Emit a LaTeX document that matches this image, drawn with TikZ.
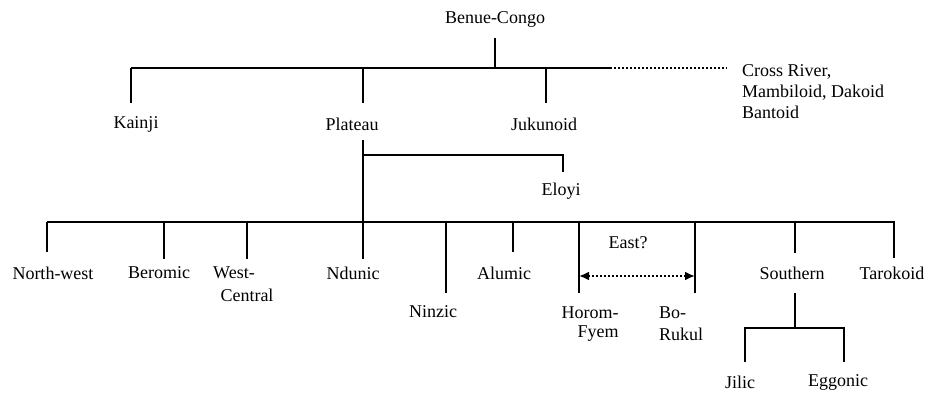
\documentclass[tikz,border=0pt]{standalone}
\usepackage{fontspec}
\setmainfont{Liberation Serif}
\usetikzlibrary{arrows.meta}
\begin{document}
\begin{tikzpicture}[x=1pt,y=-1pt,
  lbl/.style={font=\fontsize{18}{21}\selectfont, inner sep=0pt},
  ln/.style={line width=1.3pt},
  dotline/.style={line width=2.2pt, dash pattern=on 2pt off 2pt},
  twohead/.style={dotline, {Latex[length=10pt,width=9pt]}-{Latex[length=10pt,width=9pt]}}]
\useasboundingbox (0,0) rectangle (930,392);
% top level
\node[lbl] (bc) at (495,19) {Benue-Congo};
\node[lbl] (kainji) at (136,124) {Kainji};
\node[lbl] (plateau) at (352,124) {Plateau};
\node[lbl] (jukunoid) at (544,124) {Jukunoid};
\node[lbl, anchor=west, align=left] (cross) at (742,92) {Cross River,\\Mambiloid, Dakoid\\Bantoid};
\coordinate (bctop) at (495,38);
\coordinate (bcbus) at (495,68);
\coordinate (busL) at (131,68);
\coordinate (busR) at (610,68);
\coordinate (dotend) at (727,68);
\coordinate (kaiT) at (131,103);
\coordinate (plaB) at (363,68);
\coordinate (plaT) at (363,103);
\coordinate (jukB) at (546,68);
\coordinate (jukT) at (546,103);
\draw[ln] (bctop) -- (bcbus);
\draw[ln] (busL) -- (busR);
\draw[dotline] (busR) -- (dotend);
\draw[ln] (busL) -- (kaiT);
\draw[ln] (plaB) -- (plaT);
\draw[ln] (jukB) -- (jukT);
% Plateau subtree
\coordinate (plaS) at (363,140);
\coordinate (plaE) at (363,155);
\coordinate (eloB) at (563,155);
\coordinate (eloT) at (563,172);
\coordinate (plaBus) at (363,222);
\node[lbl] (eloyi) at (561,191) {Eloyi};
\draw[ln] (plaS) -- (plaBus);
\draw[ln] (plaE) -- (eloB) -- (eloT);
\coordinate (bus2L) at (47,222);
\coordinate (bus2R) at (895,222);
\draw[ln] (bus2L) -- (bus2R);
% children
\node[lbl] (nw) at (53,273) {North-west};
\node[lbl] (ber) at (159,273) {Beromic};
\node[lbl] (wc1) at (234,273) {West-};
\node[lbl] (wc2) at (247,295) {Central};
\node[lbl] (ndu) at (353,273) {Ndunic};
\node[lbl] (nin) at (433,312) {Ninzic};
\node[lbl] (alu) at (504,273) {Alumic};
\node[lbl] (east) at (628,243) {East?};
\node[lbl] (hor1) at (590,313) {Horom-};
\node[lbl] (hor2) at (598,334) {Fyem};
\node[lbl, anchor=west] (bo1) at (659,313) {Bo-};
\node[lbl, anchor=west] (bo2) at (659,334) {Rukul};
\node[lbl] (sou) at (792,273) {Southern};
\node[lbl] (tar) at (892,273) {Tarokoid};
\node[lbl] (jil) at (740,382) {Jilic};
\node[lbl] (egg) at (838,382) {Eggonic};
\foreach \x/\y/\n in {47/252/a,164/259/b,247/259/c,363/259/d,446/293/e,513/252/f,579/293/g,695/293/h,795/253/i,894/258/j}{
  \coordinate (t\n) at (\x,222);
  \coordinate (e\n) at (\x,\y);
  \draw[ln] (t\n) -- (e\n);
}
\coordinate (hA) at (579,276);
\coordinate (hB) at (695,276);
\draw[twohead] (hA) -- (hB);
% Southern subtree
\coordinate (souS) at (795,293);
\coordinate (souJ) at (795,328);
\coordinate (jilT) at (745,328);
\coordinate (jilE) at (745,362);
\coordinate (eggT) at (844,328);
\coordinate (eggE) at (844,362);
\draw[ln] (souS) -- (souJ);
\draw[ln] (jilE) -- (jilT) -- (eggT) -- (eggE);
\end{tikzpicture}
\end{document}
